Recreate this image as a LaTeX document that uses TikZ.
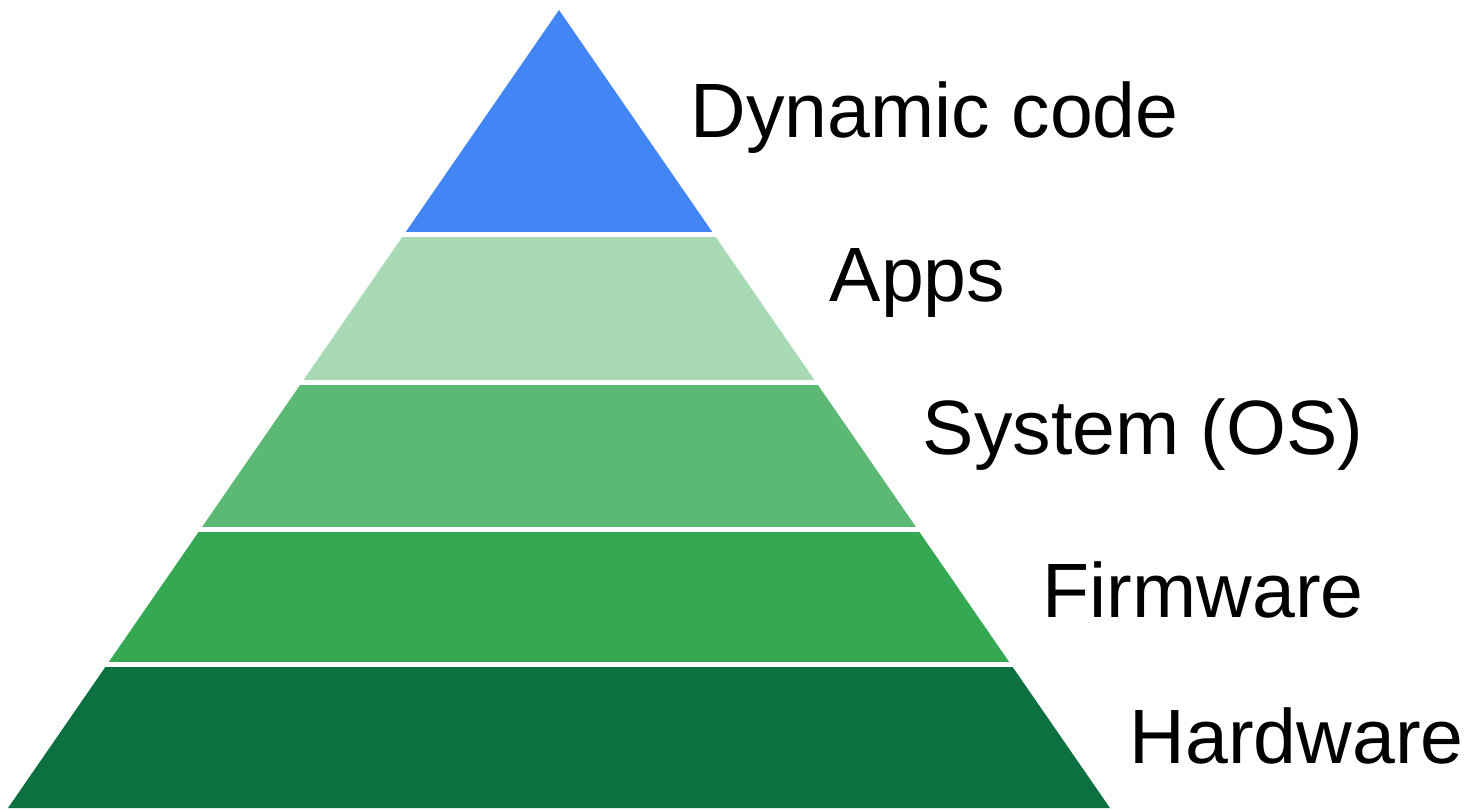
\documentclass[tikz,border=0pt]{standalone}
\usepackage{fontspec}
\setmainfont{Liberation Sans}
\usepackage{tikz}
\usetikzlibrary{positioning}
\usepackage{xcolor}

\definecolor{dyncol}{HTML}{4285F4}
\definecolor{appcol}{HTML}{A8DAB5}
\definecolor{syscol}{HTML}{5BB974}
\definecolor{fwcol}{HTML}{34A853}
\definecolor{hwcol}{HTML}{0D7040}

\tikzset{
	layerlabel/.style={anchor=base west, inner sep=0pt, font=\fontsize{21.9}{26}\selectfont}
}

\begin{document}
\begin{tikzpicture}[x=0.01cm, y=-0.01cm]
		\useasboundingbox (0,0) rectangle (1473,810);
		\coordinate (apex) at (559,10);
		\coordinate (bl)   at (8,808);
		\coordinate (br)   at (1110,808);
		
		% one band of the pyramid per layer
		\foreach \ytop/\ybot/\col in {0/232/dyncol, 238/380/appcol, 386/527/syscol, 533/661/fwcol, 667/808/hwcol}{
			\begin{scope}
				\clip (0,\ytop) rectangle (1473,\ybot);
				\fill[\col] (apex) -- (bl) -- (br) -- cycle;
			\end{scope}
		}
		
		\node[layerlabel] (dyn)  at (690,138)  {Dynamic code};
		\node[layerlabel] (apps) at (829,302)  {Apps};
		\node[layerlabel] (sys)  at (922,455)  {System (OS)};
		\node[layerlabel] (fw)   at (1042,618) {Firmware};
		\node[layerlabel] (hw)   at (1129,763) {Hardware};
	\end{tikzpicture}
\end{document}
